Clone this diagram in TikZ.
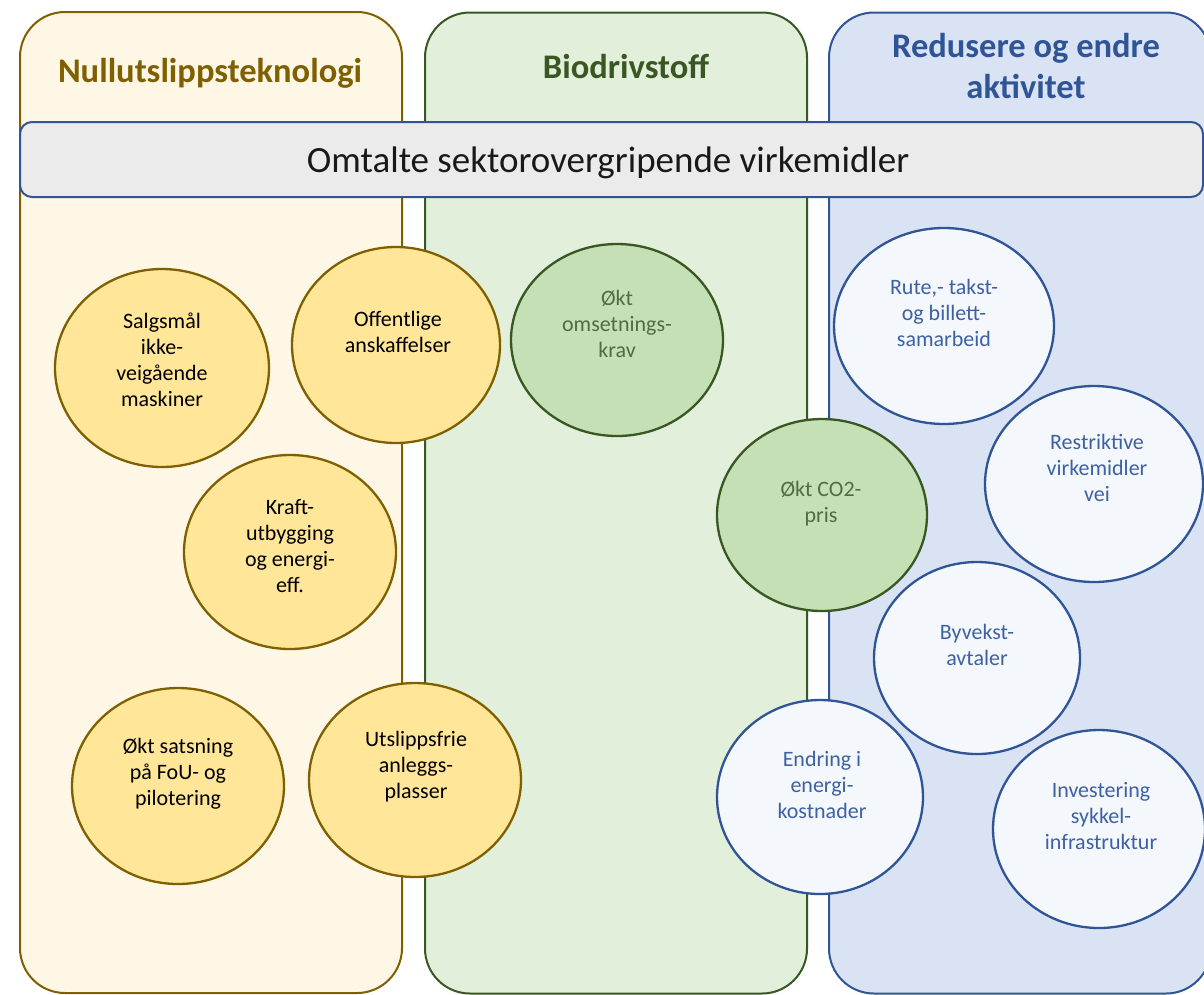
\documentclass[tikz,border=0pt]{standalone}
\usepackage{fontspec}
\setmainfont{Carlito}
\usetikzlibrary{shapes.geometric}
\definecolor{goldS}{HTML}{7F6000}
\definecolor{goldF}{HTML}{FFF7E6}
\definecolor{yelF}{HTML}{FFE699}
\definecolor{grnS}{HTML}{385723}
\definecolor{grnF}{HTML}{E2EFDA}
\definecolor{grnC}{HTML}{C5E0B4}
\definecolor{grnT}{HTML}{526B43}
\definecolor{bluS}{HTML}{2F5597}
\definecolor{bluF}{HTML}{DAE3F3}
\definecolor{bluC}{HTML}{F4F7FC}
\definecolor{bluT}{HTML}{3D61A3}
\definecolor{banF}{HTML}{EBEBEB}
\tikzset{
  col/.style={rectangle, rounded corners=45pt, line width=2pt, minimum width=382pt, minimum height=981pt, inner sep=0pt},
  circ/.style={ellipse, line width=2.3pt, inner sep=0pt},
  ctext/.style={align=center, font=\fontsize{22}{26}\selectfont, inner sep=0pt},
  head/.style={font=\fontsize{34.5}{41}\selectfont\bfseries, align=center, inner sep=0pt, anchor=base},
}
\begin{document}
\begin{tikzpicture}[x=1pt,y=-1pt]
\clip (0,0) rectangle (1204,994);
\fill[white] (0,0) rectangle (1204,994);
% columns
\node[col, draw=goldS, fill=goldF] (c1) at (211,502.5) {};
\node[col, draw=grnS, fill=grnF] (c2) at (616,503) {};
\node[col, draw=bluS, fill=bluF] (c3) at (1020,503) {};
% headings
\node[head, text=goldS] (h1) at (210,82) {Nullutslippsteknologi};
\node[head, text=grnS] (h2) at (626,78) {Biodrivstoff};
\node[head, text=bluS] (h3) at (1026,57) {Redusere og endre};
\node[head, text=bluS] (h3b) at (1026,98) {aktivitet};
% banner
\node[rectangle, rounded corners=12pt, draw=bluS, line width=2pt, fill=banF, minimum width=1183pt, minimum height=75pt, inner sep=0pt] (ban) at (611.5,159.5) {};
\node[anchor=base, inner sep=0pt, font=\fontsize{37}{44}\selectfont, text=black!90] (bant) at (608,172) {Omtalte sektorovergripende virkemidler};
% yellow circles
\node[circ, draw=goldS, fill=yelF, minimum width=214pt, minimum height=198pt] (e1) at (162,368) {};
\node[ctext] (t1) at (162,360) {Salgsmål\\ikke-\\veigående\\maskiner};
\node[circ, draw=goldS, fill=yelF, minimum width=208pt, minimum height=196pt] (e2) at (396,345) {};
\node[ctext] (t2) at (398,332) {Offentlige\\anskaffelser};
\node[circ, draw=goldS, fill=yelF, minimum width=212pt, minimum height=194pt] (e3) at (290,552) {};
\node[ctext] (t3) at (290,546) {Kraft-\\utbygging\\og energi-\\eff.};
\node[circ, draw=goldS, fill=yelF, minimum width=212pt, minimum height=196pt] (e4) at (178,786) {};
\node[ctext] (t4) at (178,774) {Økt satsning\\på FoU- og\\pilotering};
\node[circ, draw=goldS, fill=yelF, minimum width=212pt, minimum height=194pt] (e5) at (415,780) {};
\node[ctext] (t5) at (416,767) {Utslippsfrie\\anleggs-\\plasser};
% green circles
\node[circ, draw=grnS, fill=grnC, minimum width=212pt, minimum height=192pt] (e6) at (617,340) {};
\node[ctext, text=grnT] (t6) at (617,323.5) {Økt\\omsetnings-\\krav};
\node[circ, draw=grnS, fill=grnC, minimum width=210pt, minimum height=192pt] (e7) at (822,515) {};
\node[ctext, text=grnT] (t7) at (821,503.5) {Økt CO2-\\pris};
% blue circles
\node[circ, draw=bluS, fill=bluC, minimum width=220pt, minimum height=196pt] (e8) at (944,326) {};
\node[ctext, text=bluT] (t8) at (944,313) {Rute,- takst-\\og billett-\\samarbeid};
\node[circ, draw=bluS, fill=bluC, minimum width=218pt, minimum height=196pt] (e9) at (1094,484) {};
\node[ctext, text=bluT] (t9) at (1097,468) {Restriktive\\virkemidler\\vei};
\node[circ, draw=bluS, fill=bluC, minimum width=206pt, minimum height=192pt] (e10) at (977,658) {};
\node[ctext, text=bluT] (t10) at (977,644.5) {Byvekst-\\avtaler};
\node[circ, draw=bluS, fill=bluC, minimum width=206pt, minimum height=194pt] (e11) at (820,797) {};
\node[ctext, text=bluT] (t11) at (822,784.5) {Endring i\\energi-\\kostnader};
\node[circ, draw=bluS, fill=bluC, minimum width=212pt, minimum height=198pt] (e12) at (1099,829) {};
\node[ctext, text=bluT] (t12) at (1101,816) {Investering\\sykkel-\\infrastruktur};
\end{tikzpicture}
\end{document}
